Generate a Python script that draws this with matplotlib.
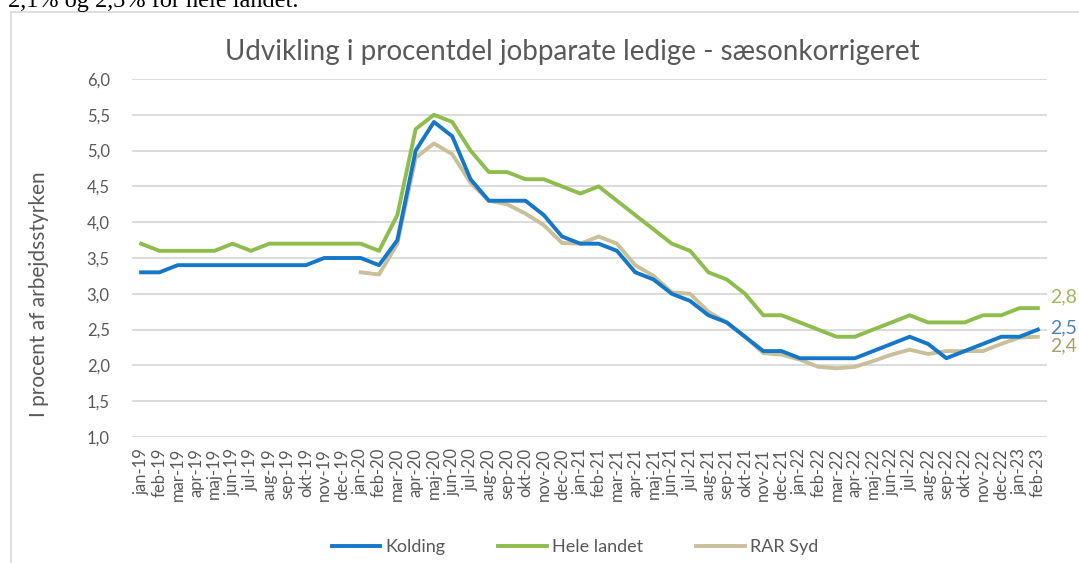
import matplotlib
matplotlib.use("Agg")
import matplotlib.pyplot as plt
from matplotlib.patches import Rectangle
from matplotlib.ticker import FuncFormatter, MultipleLocator

# months jan-19 .. feb-23
months = ["jan", "feb", "mar", "apr", "maj", "jun", "jul", "aug", "sep", "okt", "nov", "dec"]
labels = [f"{m}-{y}" for y in ["19", "20", "21", "22"] for m in months] + ["jan-23", "feb-23"]

kolding = [3.3, 3.3, 3.4, 3.4, 3.4, 3.4, 3.4, 3.4, 3.4, 3.4, 3.5, 3.5,
           3.5, 3.4, 3.75, 5.0, 5.4, 5.2, 4.6, 4.3, 4.3, 4.3, 4.1, 3.8,
           3.7, 3.7, 3.6, 3.3, 3.2, 3.0, 2.9, 2.7, 2.6, 2.4, 2.2, 2.2,
           2.1, 2.1, 2.1, 2.1, 2.2, 2.3, 2.4, 2.3, 2.1, 2.2, 2.3, 2.4,
           2.4, 2.5]

hele_landet = [3.7, 3.6, 3.6, 3.6, 3.6, 3.7, 3.6, 3.7, 3.7, 3.7, 3.7, 3.7,
               3.7, 3.6, 4.1, 5.3, 5.5, 5.4, 5.0, 4.7, 4.7, 4.6, 4.6, 4.5,
               4.4, 4.5, 4.3, 4.1, 3.9, 3.7, 3.6, 3.3, 3.2, 3.0, 2.7, 2.7,
               2.6, 2.5, 2.4, 2.4, 2.5, 2.6, 2.7, 2.6, 2.6, 2.6, 2.7, 2.7,
               2.8, 2.8]

# RAR Syd starts jan-20
rar_syd = [None] * 12 + [3.3, 3.27, 3.7, 4.9, 5.1, 4.95, 4.55, 4.3, 4.25, 4.12, 3.96, 3.71,
                         3.7, 3.8, 3.7, 3.4, 3.25, 3.02, 3.0, 2.75, 2.6, 2.4, 2.17, 2.15,
                         2.08, 1.98, 1.96, 1.98, 2.06, 2.15, 2.22, 2.16, 2.2, 2.2, 2.2, 2.3,
                         2.39, 2.4]

c_blue = "#1577c7"
c_green = "#8dbd4d"
c_tan = "#c9c09a"
gray = "#595959"

plt.rcParams['font.family'] = ['Lato', 'DejaVu Sans']

fig = plt.figure(figsize=(10.79, 5.63), dpi=100)
W, H = 1079, 563

# outer chart border and clipped document text above it
fig.patches.append(Rectangle((11 / W, -0.05), 1.2, 1 - 12 / H + 0.05, transform=fig.transFigure,
                             fill=False, edgecolor="#d9d9d9", linewidth=1.2))
fig.text(8 / W, 1 - 7 / H, "2,1% og 2,3% for hele landet.", fontsize=17.5,
         family="Liberation Serif", color="black", va="baseline", ha="left")

ax = fig.add_axes([132 / W, 1 - 437 / H, (1047 - 132) / W, (437 - 79) / H])
x = list(range(len(labels)))
rar_x = [i for i, v in zip(x, rar_syd) if v is not None]
rar_y = [v for v in rar_syd if v is not None]

ax.plot(x, kolding, color=c_blue, lw=2.8, label="Kolding", zorder=4)
ax.plot(x, hele_landet, color=c_green, lw=2.8, label="Hele landet", zorder=3)
ax.plot(rar_x, rar_y, color=c_tan, lw=2.8, label="RAR Syd", zorder=2)

ax.set_xlim(-0.5, len(labels) - 0.5)
ax.set_ylim(1.0, 6.0)
ax.yaxis.set_major_locator(MultipleLocator(0.5))
ax.yaxis.set_major_formatter(FuncFormatter(lambda v, p: f"{v:.1f}".replace(".", ",")))
ax.grid(axis="y", color="#d9d9d9", lw=1.3)
ax.set_axisbelow(True)
for s in ax.spines.values():
    s.set_visible(False)
ax.tick_params(axis="both", length=0, colors=gray, labelsize=12)
ax.tick_params(axis="y", pad=16)
ax.set_xticks(x)
ax.set_xticklabels(labels, rotation=90, fontsize=12, color=gray)
ax.tick_params(axis="x", pad=8)

ax.set_ylabel("I procent af arbejdsstyrken", fontsize=15, color=gray)
ax.yaxis.set_label_coords(-0.091, 0.40)
ax.set_title("Udvikling i procentdel jobparate ledige - sæsonkorrigeret",
             fontsize=20, color=gray, pad=14, x=0.481)

# end labels
ax.annotate("2,8", (x[-1], hele_landet[-1]), xytext=(8.5, 8), textcoords="offset points",
            color="#9bbb59", fontsize=14, va="center", annotation_clip=False)
ax.annotate("2,5", (x[-1], kolding[-1]), xytext=(8.5, 1.5), textcoords="offset points",
            color="#4f81bd", fontsize=14, va="center", annotation_clip=False)
ax.annotate("2,4", (x[-1], rar_y[-1]), xytext=(8.5, -6.5), textcoords="offset points",
            color="#a99f6d", fontsize=14, va="center", annotation_clip=False)

fig.legend(loc="center", bbox_to_anchor=(575 / W, 1 - 547 / H), ncol=3, frameon=False,
           fontsize=13, labelcolor=gray, handlelength=2.7, columnspacing=2.9, handletextpad=0.3)

plt.savefig("out.png", dpi=100)
